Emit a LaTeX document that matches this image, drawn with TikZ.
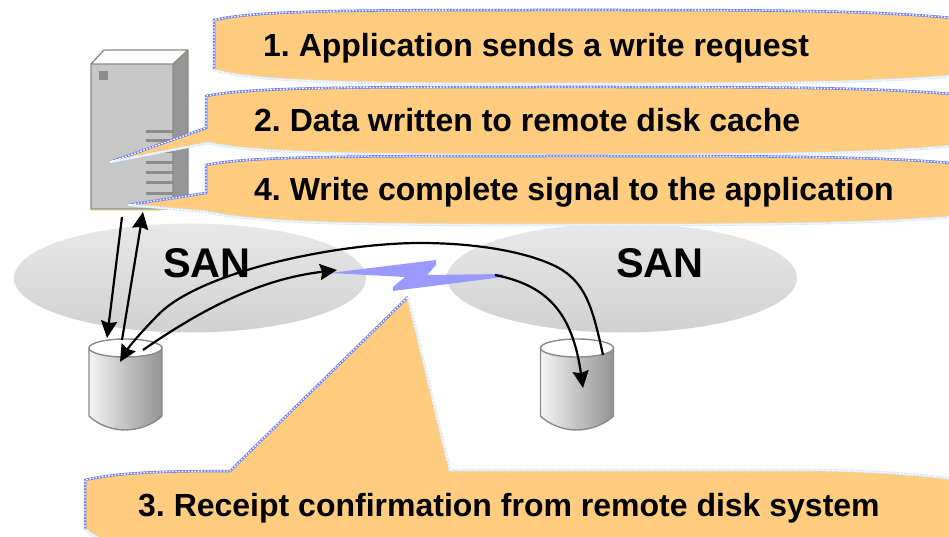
\documentclass[tikz,border=0pt]{standalone}
\usepackage{fontspec}
\setmainfont{Liberation Sans}
\usetikzlibrary{arrows.meta}
\definecolor{cofill}{HTML}{FFCC80}
\definecolor{coblue}{HTML}{6F82F0}
\definecolor{colight}{HTML}{D6E8FA}
\definecolor{bolt}{HTML}{9999FF}
\definecolor{edgegray}{HTML}{8A8A84}
\tikzset{
  upperline/.style={draw=coblue,line width=2.5pt},
  lowerline/.style={draw=colight,line width=2.5pt},
  dotline/.style={draw=white,line width=1.3pt,dash pattern=on 1.6pt off 1.6pt},
  label/.style={font=\bfseries\fontsize{32}{34}\selectfont,anchor=base west,inner sep=0pt,text=black},
  sanlabel/.style={font=\bfseries\fontsize{41.5}{44}\selectfont,anchor=base west,inner sep=0pt,text=black},
  flow/.style={draw=black,line width=2.2pt,-{Stealth[length=17pt,width=16pt,inset=2pt]}},
  sanshade/.style={top color=black!9,bottom color=black!18,draw=none},
  vent/.style={fill=black!45,draw=none},
  cylbody/.style={left color=black!4,right color=black!42,middle color=black!24,draw=edgegray,line width=1.4pt},
}
\newcommand{\calloutshape}[3]{%
  \fill[cofill] #1 #3 -- cycle;
  \path[upperline] #1;
  \path[lowerline] #2 #3;
  \path[dotline] #1 #3;
}
\newcommand{\cylindershape}[2]{%
  \begin{scope}[shift={(#1,#2)}]
    \path[cylbody] (0,0) -- (0,68) .. controls (8,76) and (22,82) .. (36,82)
      .. controls (50,82) and (65,76) .. (73,68) -- (73,0) -- cycle;
    \path[draw=edgegray,line width=1.4pt,fill=white] (36.5,0) ellipse [x radius=36.5,y radius=9];
  \end{scope}
}
\begin{document}
\frenchspacing
\begin{tikzpicture}[x=1pt,y=-1pt]
\useasboundingbox (0,0) rectangle (949,537);
\clip (0,0) rectangle (949,537);
% SAN clouds
\path[sanshade] (190,278) ellipse [x radius=176,y radius=54.5];
\path[sanshade] (622,278) ellipse [x radius=175,y radius=54.5];
% server
\fill[black!22] (91,64) rectangle (173,209);
\fill[black!41] (173,64) -- (188,50) -- (188,195) -- (173,209) -- cycle;
\fill[white] (91,64) -- (104,50) -- (188,50) -- (173,64) -- cycle;
\draw[edgegray,line width=1.3pt,line join=round] (91,209) -- (91,64) -- (104,50) -- (188,50) -- (188,195) -- (173,209) -- cycle (91,64) -- (173,64) -- (173,209) (173,64) -- (188,50);
\draw[draw=black!10!yellow!40!white,line width=1.5pt] (91,210.5) -- (160,210.5);
\fill[black!45] (99,71) rectangle (108,80);
\foreach \vy in {132,141,152,163,173,183,194}
  \path[vent] (146,\vy-1.5) rectangle (173,\vy+1.5);
% disks
\cylindershape{89}{348}
\cylindershape{540.5}{348}
% callouts
\calloutshape{(214,70) -- (214,20) .. controls (260,10) and (350,10) .. (580,10) .. controls (760,10) and (880,10) .. (962,19)}{(962,75)}{-- (962,75) .. controls (880,83) and (760,84) .. (580,84) .. controls (400,84) and (260,84) .. (214,70)}
\calloutshape{(110,162) -- (206,128) -- (206,96) .. controls (250,87) and (350,87) .. (580,87) .. controls (760,87) and (880,87) .. (962,95)}{(962,145)}{-- (962,145) .. controls (880,154) and (760,155) .. (580,155) .. controls (400,155) and (260,155) .. (208,143) -- (110,162)}
\calloutshape{(128,205) -- (206,193) -- (206,165) .. controls (250,156) and (350,156) .. (580,156) .. controls (760,156) and (880,156) .. (962,164)}{(962,216)}{-- (962,216) .. controls (880,224) and (760,225) .. (580,225) .. controls (400,225) and (260,225) .. (207,212) -- (128,205)}
\calloutshape{(85,530) -- (85,480) .. controls (120,472) and (170,471) .. (230,471) -- (408,297)}{(408,297)}{-- (408,297) -- (450,470) -- (800,470) .. controls (860,470) and (920,474) .. (962,480) -- (962,545) -- (110,545) -- (85,530)}
% lightning
\fill[bolt] (330,273) -- (436,260) -- (436,265) -- (427,275) -- (503,274) -- (503,277) -- (393,291) -- (393,287) -- (405,277) -- cycle;
% text
\node[sanlabel] (sanL) at (163,277) {SAN};
\node[sanlabel] (sanR) at (616,277) {SAN};
\node[label] (t1) at (263,57) {1. Application sends a write request};
\node[label] (t2) at (254,132) {2. Data written to remote disk cache};
\node[label] (t4) at (254,201) {4. Write complete signal to the application};
\node[label] (t3) at (138,516) {3. Receipt confirmation from remote disk system};
% connector ends
\coordinate (srvOut) at (122,217);
\coordinate (srvIn) at (143,212);
\coordinate (diskLin) at (107,338);
\coordinate (diskLout) at (122,340);
\coordinate (diskLb) at (143,350);
\coordinate (diskLa) at (120,362);
\coordinate (boltL) at (337,270);
\coordinate (boltR) at (495,275);
\coordinate (diskRa) at (583,388);
\coordinate (diskRb) at (603,355);
\draw[flow] (srvOut) -- (diskLin);
\draw[flow] (diskLout) -- (srvIn);
\draw[flow] (diskLb) .. controls (215,300) and (270,278) .. (boltL);
\draw[flow] (diskRb) .. controls (592,305) and (585,280) .. (553,265) .. controls (520,250) and (470,243) .. (420,243) .. controls (340,243) and (205,270) .. (160,313) .. controls (145,328) and (130,345) .. (diskLa);
\draw[flow] (boltR) .. controls (545,285) and (572,310) .. (diskRa);
\end{tikzpicture}
\end{document}
